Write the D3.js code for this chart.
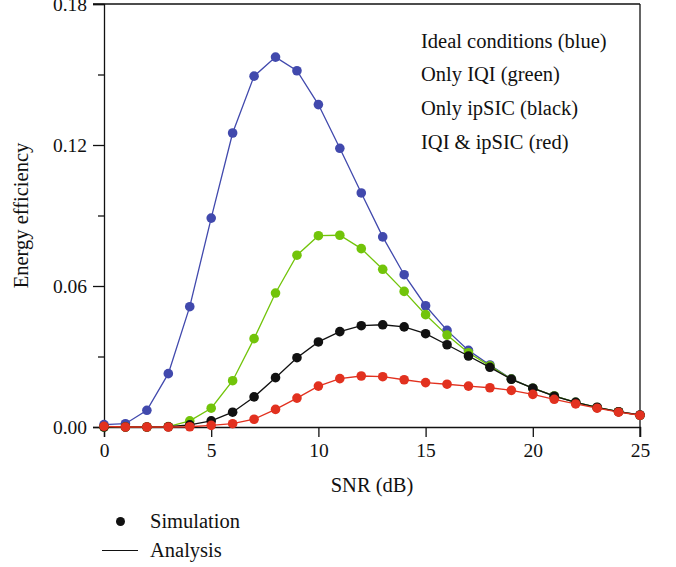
<!DOCTYPE html>
<html>
<head>
<meta charset="utf-8">
<script src="https://cdn.jsdelivr.net/npm/d3@7"></script>
<style>
  body { margin: 0; background: #fff; }
  svg { display: block; }
  text { font-family: "Liberation Serif", "DejaVu Serif", serif; fill: #111; }
</style>
</head>
<body>
<svg id="chart" width="676" height="567"></svg>
<script>
// SNR in dB, one point per dB
var snr = d3.range(0, 26);

// energy efficiency
var ideal = [0.0010, 0.0014, 0.0071, 0.0227, 0.0512, 0.0889, 0.1251, 0.1493, 0.1574, 0.1516,
             0.1372, 0.1186, 0.0996, 0.0809, 0.0648, 0.0516, 0.0411, 0.0326, 0.0264, 0.0205,
             0.0165, 0.0132, 0.0105, 0.0082, 0.0065, 0.0050];
var onlyIQI = [0.0000, 0.0000, 0.0000, 0.0002, 0.0026, 0.0080, 0.0197, 0.0376, 0.0570, 0.0731,
               0.0814, 0.0816, 0.0759, 0.0671, 0.0577, 0.0478, 0.0391, 0.0316, 0.0260, 0.0204,
               0.0165, 0.0132, 0.0105, 0.0083, 0.0065, 0.0050];
var onlyIpSIC = [0.0000, 0.0000, 0.0000, 0.0001, 0.0009, 0.0026, 0.0063, 0.0128, 0.0210, 0.0295,
                 0.0362, 0.0406, 0.0431, 0.0435, 0.0426, 0.0397, 0.0350, 0.0302, 0.0254, 0.0203,
                 0.0165, 0.0131, 0.0105, 0.0084, 0.0065, 0.0051];
var both = [0.0003, 0.0000, 0.0000, 0.0000, 0.0001, 0.0007, 0.0014, 0.0033, 0.0075, 0.0123,
            0.0174, 0.0206, 0.0217, 0.0214, 0.0201, 0.0189, 0.0182, 0.0174, 0.0167, 0.0156,
            0.0139, 0.0118, 0.0098, 0.0080, 0.0063, 0.0050];

var xTicks = [0, 5, 10, 15, 20, 25];
var yTicks = [0, 0.06, 0.12, 0.18];
var yMinor = [0.03, 0.09, 0.15];
var legendLabels = ["Ideal conditions (blue)", "Only IQI (green)", "Only ipSIC (black)", "IQI & ipSIC (red)"];

// farben der kurven (reihenfolge = zeichenreihenfolge)
var series = [
  {values: ideal, color: "#4149ad"},
  {values: onlyIQI, color: "#72c40a"},
  {values: onlyIpSIC, color: "#111111"},
  {values: both, color: "#e2311f"}
];

var margin = {top: 4, right: 36, bottom: 140, left: 104},
    width = 676 - margin.left - margin.right,
    height = 567 - margin.top - margin.bottom;

var svg = d3.select("#chart");
var g = svg.append("g").attr("transform", "translate(" + margin.left + "," + margin.top + ")");

var x = d3.scaleLinear().domain([0, 25]).range([0, width]);
var y = d3.scaleLinear().domain([0, 0.18]).range([height, 0]);

// rahmen oben und rechts
g.append("line").attr("x1", -11).attr("x2", width).attr("y1", 0).attr("y2", 0)
  .attr("stroke", "#111").attr("stroke-width", 1.3);
g.append("line").attr("x1", width).attr("x2", width).attr("y1", 0).attr("y2", height + 10)
  .attr("stroke", "#111").attr("stroke-width", 1.3);

// achsen
var xAxis = g.append("g").attr("transform", "translate(0," + height + ")")
  .call(d3.axisBottom(x).tickValues(xTicks).tickSize(10).tickPadding(6).tickFormat(d3.format("d")));
var yAxis = g.append("g")
  .call(d3.axisLeft(y).tickValues(yTicks).tickSize(11).tickPadding(6).tickFormat(d3.format(".2f")));
g.append("g")
  .call(d3.axisLeft(y).tickValues(yMinor).tickSize(6).tickFormat(""))
  .call(s => s.select(".domain").remove());

g.selectAll(".domain").attr("stroke", "#111").attr("stroke-width", 1.3);
g.selectAll(".tick line").attr("stroke", "#111").attr("stroke-width", 1.3);
g.selectAll(".tick text").style("font-family", "Liberation Serif").style("font-size", "19.5px").attr("fill", "#111");

// kurven
var line = d3.line().x((d, i) => x(snr[i])).y(d => y(d));

series.forEach(function(s) {
  g.append("path")
    .datum(s.values)
    .attr("d", line)
    .attr("fill", "none")
    .attr("stroke", s.color)
    .attr("stroke-width", 1.3);
  g.selectAll(null)
    .data(s.values)
    .enter()
    .append("circle")
    .attr("cx", (d, i) => x(snr[i]))
    .attr("cy", d => y(d))
    .attr("r", 4.8)
    .attr("fill", s.color);
});

// legende oben rechts
g.selectAll(".lab")
  .data(legendLabels)
  .enter()
  .append("text")
  .attr("class", "lab")
  .attr("x", 317)
  .attr("y", (d, i) => 43.5 + i * 33.7)
  .style("font-size", "20.5px")
  .text(d => d);

// achsentitel
svg.append("text")
  .attr("x", margin.left + width / 2)
  .attr("y", 492)
  .attr("text-anchor", "middle")
  .style("font-size", "20.5px")
  .text("SNR (dB)");

svg.append("text")
  .attr("transform", "translate(28," + (margin.top + height / 2) + ") rotate(-90)")
  .attr("text-anchor", "middle")
  .style("font-size", "20.5px")
  .text("Energy efficiency");

// untere legende
svg.append("circle").attr("cx", 120.5).attr("cy", 521.5).attr("r", 4.5).attr("fill", "#111");
svg.append("text").attr("x", 150).attr("y", 528).style("font-size", "20.5px").text("Simulation");
svg.append("line").attr("x1", 102).attr("x2", 138).attr("y1", 550.5).attr("y2", 550.5)
  .attr("stroke", "#111").attr("stroke-width", 1.2);
svg.append("text").attr("x", 150).attr("y", 557).style("font-size", "20.5px").text("Analysis");
</script>
</body>
</html>
